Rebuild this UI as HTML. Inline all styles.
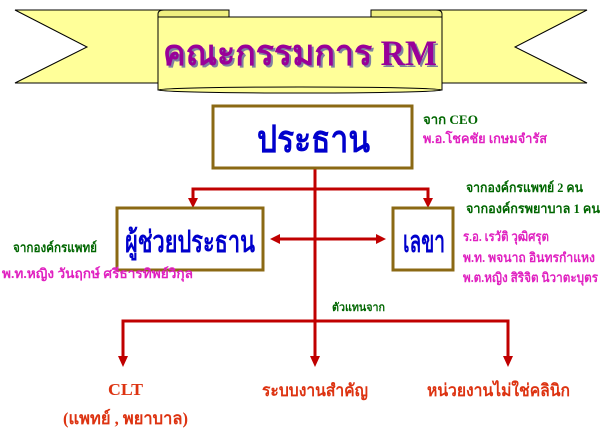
<!DOCTYPE html>
<html><head><meta charset="utf-8"><style>
html,body{margin:0;padding:0;background:#fff;width:604px;height:442px;overflow:hidden}
svg text{font-family:"Liberation Serif","DejaVu Serif",serif;font-weight:bold}
</style></head><body>
<svg width="604" height="442" viewBox="0 0 604 442" xmlns="http://www.w3.org/2000/svg">
<polygon points="15,10 229,10 229,83 15,83 87,47" fill="#ffff99" stroke="#000" stroke-width="1"/>
<polygon points="587,10 371,10 371,83 587,83 515,47" fill="#ffff99" stroke="#000" stroke-width="1"/>
<path d="M158,17 L158,14 Q158,10 164,10 L229,10 L229,17 Z" fill="#f0f080" stroke="#000"/>
<path d="M442,17 L442,14 Q442,10 436,10 L371,10 L371,17 Z" fill="#f0f080" stroke="#000"/>
<rect x="158" y="17" width="284" height="73" fill="#ffff99" stroke="#000"/>
<ellipse cx="300" cy="90" rx="142" ry="3" fill="#ffff99" stroke="#000"/>
<text x="165" y="67" font-size="36" textLength="274" lengthAdjust="spacingAndGlyphs" fill="#8080a0">คณะกรรมการ RM</text>
<text x="163" y="65" font-size="36" textLength="274" lengthAdjust="spacingAndGlyphs" fill="#990099">คณะกรรมการ RM</text>
<g stroke="#c00000" stroke-width="3" fill="none">
<line x1="315" y1="168" x2="315" y2="358"/>
<polyline points="193,200 193,189 428,189 428,200"/>
<polyline points="123,358 123,321 508,321 508,358"/>
<line x1="276" y1="239" x2="380" y2="239"/>
</g>
<g fill="#c00000">
<polygon points="188,198 198,198 193,208"/>
<polygon points="423,198 433,198 428,208"/>
<polygon points="118,356 128,356 123,367"/>
<polygon points="310,356 320,356 315,367"/>
<polygon points="503,356 513,356 508,367"/>
<polygon points="270,239 280,234 280,244"/>
<polygon points="386,239 376,234 376,244"/>
</g>
<g fill="#fff" stroke="#8b6914" stroke-width="3">
<rect x="213" y="106" width="199" height="62"/>
<rect x="117" y="208" width="146" height="62"/>
<rect x="393" y="208" width="60" height="62"/>
</g>
<text x="257" y="152" font-size="38" textLength="113" lengthAdjust="spacingAndGlyphs" fill="#0000cc">ประธาน</text>
<text x="125" y="252" font-size="30" textLength="130" lengthAdjust="spacingAndGlyphs" fill="#0000cc">ผู้ช่วยประธาน</text>
<text x="403" y="252" font-size="30" textLength="42" lengthAdjust="spacingAndGlyphs" fill="#0000cc">เลขา</text>
<g font-size="13">
<text x="423" y="124" textLength="55" lengthAdjust="spacingAndGlyphs" fill="#006600">จาก CEO</text>
<text x="423" y="143" textLength="124" lengthAdjust="spacingAndGlyphs" fill="#e020c0">พ.อ.โชคชัย  เกษมจำรัส</text>
<text x="466" y="192" textLength="117" lengthAdjust="spacingAndGlyphs" fill="#006600">จากองค์กรแพทย์ 2 คน</text>
<text x="466" y="213" textLength="134" lengthAdjust="spacingAndGlyphs" fill="#006600">จากองค์กรพยาบาล 1 คน</text>
<text x="463" y="241" textLength="86" lengthAdjust="spacingAndGlyphs" fill="#e020c0">ร.อ. เรวัติ วุฒิศรุต</text>
<text x="463" y="262" textLength="132" lengthAdjust="spacingAndGlyphs" fill="#e020c0">พ.ท. พจนาถ  อินทรกำแหง</text>
<text x="463" y="282" textLength="135" lengthAdjust="spacingAndGlyphs" fill="#e020c0">พ.ต.หญิง สิริจิต นิวาตะบุตร</text>
<text x="13" y="252" textLength="84" lengthAdjust="spacingAndGlyphs" fill="#006600">จากองค์กรแพทย์</text>
<text x="2" y="278" textLength="191" lengthAdjust="spacingAndGlyphs" fill="#e020c0">พ.ท.หญิง วันฤกษ์  ศรีธารทิพย์วิกุล</text>
<text x="332" y="311" font-size="11" textLength="53" lengthAdjust="spacingAndGlyphs" fill="#006600">ตัวแทนจาก</text>
</g>
<g font-size="17" fill="#dd3311">
<text x="108" y="395" textLength="35" lengthAdjust="spacingAndGlyphs">CLT</text>
<text x="63" y="424" textLength="125" lengthAdjust="spacingAndGlyphs">(แพทย์ , พยาบาล)</text>
<text x="262" y="396" textLength="106" lengthAdjust="spacingAndGlyphs">ระบบงานสำคัญ</text>
<text x="427" y="396" textLength="143" lengthAdjust="spacingAndGlyphs">หน่วยงานไม่ใช่คลินิก</text>
</g>
</svg>
</body></html>
